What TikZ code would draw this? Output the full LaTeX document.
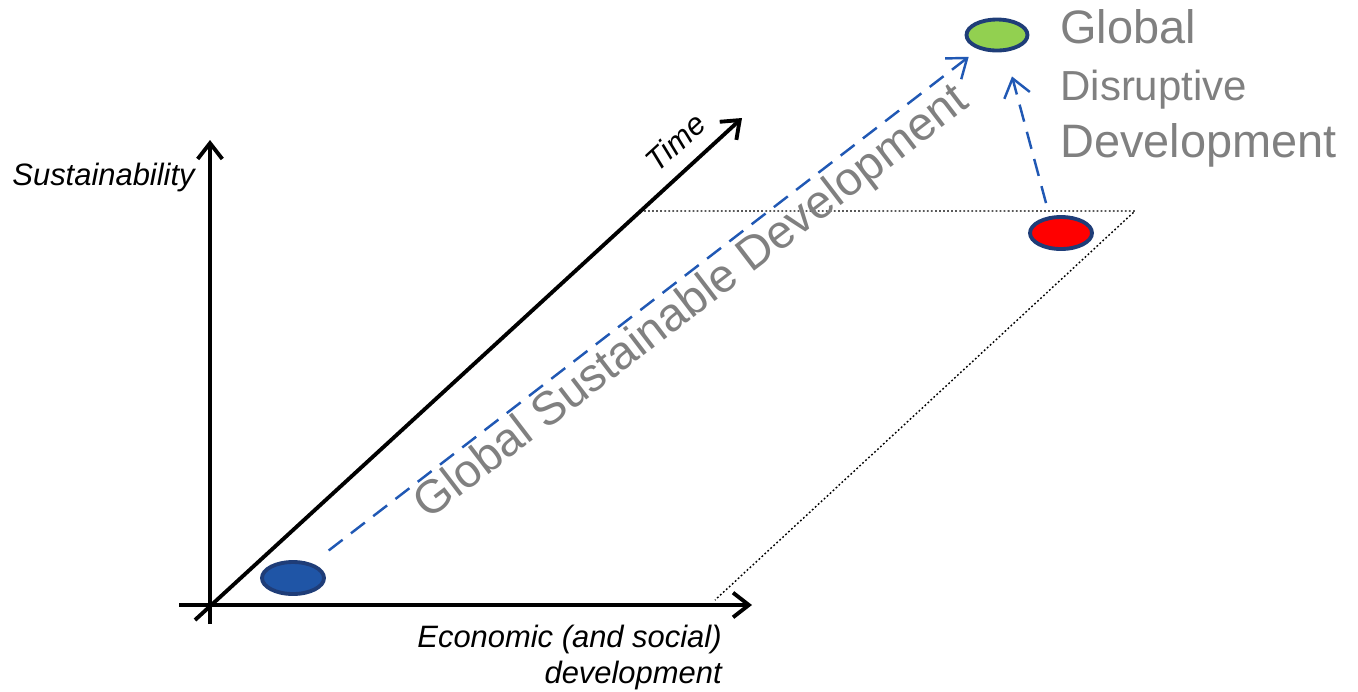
\documentclass[tikz,border=0pt]{standalone}
\usepackage{fontspec}
\setmainfont{Liberation Sans}
\usetikzlibrary{shapes,arrows.meta,calc,positioning}

\definecolor{rimblue}{HTML}{1F3D78}
\definecolor{dotblue}{HTML}{1F55A6}
\definecolor{lineblue}{HTML}{2058B4}
\definecolor{dotgreen}{HTML}{92D050}
\definecolor{txtgray}{HTML}{808080}

\begin{document}
\begin{tikzpicture}[x=0.02cm,y=-0.02cm,
  axis/.style={line width=2.2pt,-{Straight Barb[length=9pt,width=14pt]}},
  spot/.style={ellipse,draw=rimblue,line width=2.2pt,inner sep=0pt,
    minimum width=1.24cm,minimum height=0.64cm},
  path/.style={lineblue,line width=1.4pt,dash pattern=on 10pt off 6pt,
    -{Straight Barb[length=10pt,width=15pt]}},
  plane/.style={line width=0.8pt,dash pattern=on 1pt off 1.3pt},
  axlabel/.style={font=\fontsize{17.6}{20.5}\selectfont\itshape,inner sep=0pt},
  big/.style={text=txtgray,inner sep=0pt,anchor=base west,
    font=\fontsize{26.7}{30}\selectfont}]

        \useasboundingbox (0,0) rectangle (1358,691);

        % axes
        \coordinate (ybot) at (210,624);
        \coordinate (ytop) at (210,140);
        \coordinate (xleft) at (179,605);
        \coordinate (xright) at (752,605);
        \coordinate (tbot) at (195,620);
        \coordinate (ttop) at (742,118);
        \draw[axis] (ybot) -- (ytop);
        \draw[axis] (xleft) -- (xright);
        \draw[axis] (tbot) -- (ttop);

        \node (sust) [axlabel,anchor=base east] at (195,185) {Sustainability};
        \node (econ) [axlabel,anchor=base east,align=right] at (722,683)
          {Economic (and social)\\development};
        \node (time) [axlabel,rotate=42.5] at (675,142) {Time};

        % plane at a later time
        \coordinate (p1) at (640,211);
        \coordinate (p2) at (1135,211);
        \coordinate (p3) at (715,600);
        \draw[plane] (p1) -- (p2) -- (p3);

        % states
        \node (start) [spot,fill=dotblue] at (293,578) {};
        \node (jump) [spot,fill=red] at (1061,233) {};
        \node (goal) [spot,fill=dotgreen,minimum width=1.22cm,minimum height=0.62cm] at (997,35) {};

        \draw[path,shorten <=12pt,shorten >=7pt] (start) -- (goal);
        \draw[path] ($(jump.north)+(-15,-12)$) -- ($(goal.south)+(15,24)$);

        \node (gsd) [big,rotate=37.4] at (428,521) {Global Sustainable Development};

        \node (glob) [big] at (1060,43) {Global};
        \node (disr) [big,font=\fontsize{23.9}{28}\selectfont] at (1060,100) {Disruptive};
        \node (devel) [big] at (1060,157) {Development};
      \end{tikzpicture}
\end{document}
